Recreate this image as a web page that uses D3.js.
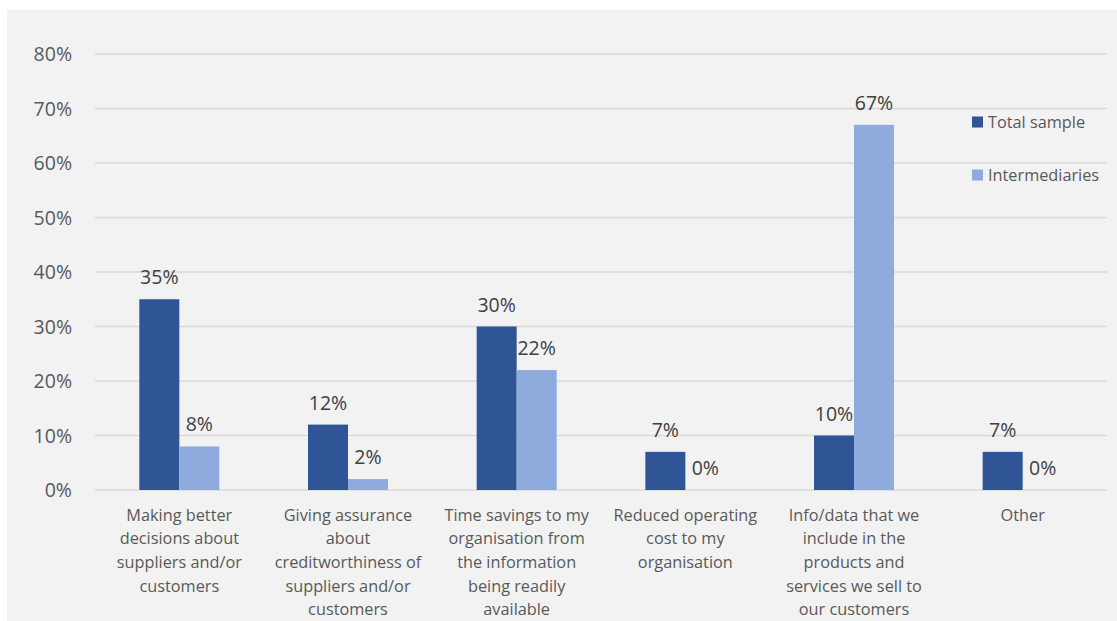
<!DOCTYPE html>
<html>
<head>
<meta charset="utf-8">
<script src="https://cdn.jsdelivr.net/npm/d3@7"></script>
<style>
  html, body { margin: 0; padding: 0; background: #ffffff; }
  svg { display: block; }
</style>
</head>
<body>
<svg id="chart" width="1117" height="621"></svg>
<script>
// Benefit categories (each entry is the wrapped label, one string per line)
const categories = [
  ["Making better", "decisions about", "suppliers and/or", "customers"],
  ["Giving assurance", "about", "creditworthiness of", "suppliers and/or", "customers"],
  ["Time savings to my", "organisation from", "the information", "being readily", "available"],
  ["Reduced operating", "cost to my", "organisation"],
  ["Info/data that we", "include in the", "products and", "services we sell to", "our customers"],
  ["Other"]
];
const seriesNames = ["Total sample", "Intermediaries"];
const totalSample = [35, 12, 30, 7, 10, 7];
const intermediaries = [8, 2, 22, 0, 67, 0];
const yTicks = [0, 10, 20, 30, 40, 50, 60, 70, 80];
const colors = ["#2f5597", "#8faadc"];

const svg = d3.select("#chart");
const W = 1117, H = 621;
const FONT = "'Open Sans', 'Noto Sans', sans-serif";

// panel background
svg.append("rect").attr("x", 7).attr("y", 10).attr("width", W - 7).attr("height", H - 10)
  .attr("fill", "#f2f2f2");

const plot = { left: 95, right: 1107, top: 54, bottom: 490 };

const x = d3.scaleBand().domain(d3.range(categories.length))
  .range([plot.left, plot.right]).paddingInner(0).paddingOuter(0);
const barW = 40;
const xSeries = d3.scaleBand().domain([0, 1])
  .range([0, barW * 2]);
const y = d3.scaleLinear().domain([0, 80]).range([plot.bottom, plot.top]);

// gridlines
svg.append("g").selectAll("line").data(yTicks).join("line")
  .attr("x1", plot.left).attr("x2", plot.right)
  .attr("y1", d => y(d)).attr("y2", d => y(d))
  .attr("stroke", "#d9d9d9").attr("stroke-width", 1.3);

// y axis labels
const yAxis = d3.axisLeft(y).tickValues(yTicks).tickFormat(d => d + "%").tickSize(0).tickPadding(0);
const gy = svg.append("g").attr("transform", `translate(72,0)`).call(yAxis);
gy.select(".domain").remove();
gy.selectAll("text").attr("font-family", FONT).attr("font-size", 19.5)
  .attr("fill", "#595959").attr("dy", "0.35em");

// bars
const series = [totalSample, intermediaries];
const rows = [];
categories.forEach((c, i) => {
  series.forEach((s, k) => rows.push({ i, k, v: s[i] }));
});
const groupX = i => x(i) + x.bandwidth() / 2 - barW;

svg.append("g").selectAll("rect").data(rows).join("rect")
  .attr("x", d => groupX(d.i) + xSeries(d.k))
  .attr("width", xSeries.bandwidth())
  .attr("y", d => y(d.v))
  .attr("height", d => y(0) - y(d.v))
  .attr("fill", d => colors[d.k]);

// value labels
svg.append("g").selectAll("text").data(rows).join("text")
  .attr("x", d => groupX(d.i) + xSeries(d.k) + xSeries.bandwidth() / 2)
  .attr("y", d => y(d.v) - 15)
  .attr("text-anchor", "middle")
  .attr("font-family", FONT).attr("font-size", 19.5).attr("fill", "#404040")
  .text(d => d.v + "%");

// category labels
const catG = svg.append("g").selectAll("text").data(categories).join("text")
  .attr("text-anchor", "middle")
  .attr("font-family", FONT).attr("font-size", 16.3).attr("fill", "#595959");
catG.each(function (lines, i) {
  const t = d3.select(this);
  lines.forEach((ln, j) => {
    t.append("tspan")
      .attr("x", x(i) + x.bandwidth() / 2)
      .attr("y", 515 + j * 23.6)
      .attr("dy", "0.35em")
      .text(ln);
  });
});

// legend
const leg = svg.append("g").selectAll("g").data(seriesNames).join("g")
  .attr("transform", (d, k) => `translate(972, ${122 + k * 53})`);
leg.append("rect").attr("x", 0).attr("y", -5.5).attr("width", 11).attr("height", 11)
  .attr("fill", (d, k) => colors[k]);
leg.append("text").attr("x", 16).attr("y", 0).attr("dy", "0.35em")
  .attr("font-family", FONT).attr("font-size", 16.3).attr("fill", "#595959")
  .text(d => d);
</script>
</body>
</html>
